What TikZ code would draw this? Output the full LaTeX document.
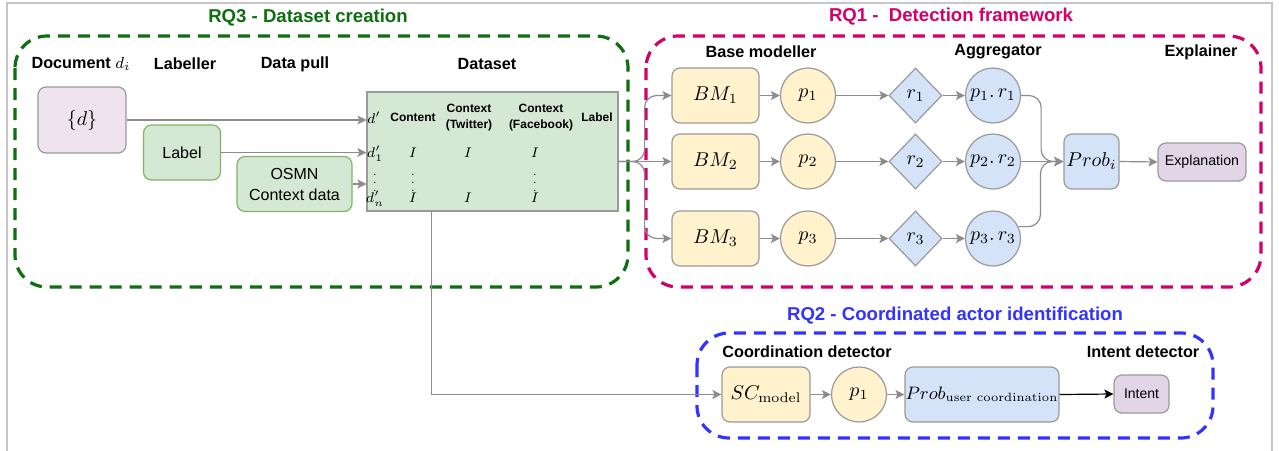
\documentclass[tikz,border=0pt]{standalone}
\usepackage{amsmath}
\usepackage{amssymb}
\usepackage[no-math]{fontspec}
\setmainfont{Liberation Sans}
\usetikzlibrary{arrows.meta}
\usetikzlibrary{shapes.geometric}

\definecolor{grpgreen}{HTML}{0F6E0F}
\definecolor{grpmag}{HTML}{D3006C}
\definecolor{grpblue}{HTML}{3333FF}
\definecolor{fillyel}{HTML}{FFF2CC}
\definecolor{fillblu}{HTML}{D4E3F8}
\definecolor{fillgrn}{HTML}{D5E8D4}
\definecolor{drawgrn}{HTML}{82B366}
\definecolor{fillpur}{HTML}{E1D5E7}
\definecolor{filldoc}{HTML}{EFE3EE}
\definecolor{edgegray}{HTML}{8C8C8C}
\definecolor{boxgray}{HTML}{9A9A9A}

\begin{document}
\begin{tikzpicture}[x=0.5pt, y=-0.5pt,
	box/.style={draw=boxgray, line width=0.6pt, rounded corners=4pt, inner sep=0pt,
		minimum width=43.5pt, minimum height=27.5pt, font=\fontsize{10}{12}\selectfont},
	rnd/.style={circle, draw=boxgray, line width=0.6pt, inner sep=0pt, minimum size=27.5pt,
		font=\fontsize{10}{12}\selectfont},
	dia/.style={diamond, draw=boxgray, line width=0.6pt, inner sep=0pt, minimum width=26.5pt,
		minimum height=27.5pt, fill=fillblu, font=\fontsize{10}{12}\selectfont},
	edge/.style={draw=edgegray, line width=0.6pt, -{Stealth[length=4.5pt,width=4.5pt,inset=1pt]}},
	group/.style={line width=1.6pt, dash pattern=on 6pt off 4pt, rounded corners=16pt},
	title/.style={font=\fontsize{9.3}{11}\selectfont\bfseries},
	head/.style={font=\fontsize{8.1}{10}\selectfont\bfseries},
	colhead/.style={font=\fontsize{6}{8}\selectfont\bfseries, align=center, inner sep=0pt},
	cell/.style={font=\fontsize{7.5}{9}\selectfont, inner sep=0pt},
	dots/.style={font=\fontsize{5.5}{7}\selectfont, inner sep=0pt}]

	% frame
	\useasboundingbox (0,0) rectangle (1279,450);
	\fill[white] (0,0) rectangle (1279,450);
	\draw[black!22, line width=0.6pt] (7,470) -- (7,3) -- (1272,3) -- (1272,470);

	% the three groups
	\draw[group, draw=grpgreen] (15,36) rectangle (628,287);
	\draw[group, draw=grpmag] (646,36) rectangle (1261,287);
	\draw[group, draw=grpblue] (697,333) rectangle (1213,438);
	\node[title, text=grpgreen] (rqthree) at (308,18) {RQ3 - Dataset creation};
	\node[title, text=grpmag] (rqone) at (951,17) {RQ1 -~ Detection framework};
	\node[title, text=grpblue] (rqtwo) at (955,316) {RQ2 - Coordinated actor identification};

	% RQ3 - dataset creation
	\node[head] (hdoc) at (81,64) {Document $d_i$};
	\node[head] (hlab) at (185,64) {Labeller};
	\node[head] (hpull) at (295,64) {Data pull};
	\node[head] (hds) at (487,64) {Dataset};

	\node[box, fill=filldoc, minimum width=44pt, minimum height=33pt] (doc) at (82,120) {$\{d\}$};
	\node[box, fill=fillgrn, draw=drawgrn, minimum width=38.5pt, font=\fontsize{8}{10}\selectfont] (lab) at (182,152.5) {Label};
	\node[box, fill=fillgrn, draw=drawgrn, minimum width=57.5pt, align=center,
		font=\fontsize{8}{10.5}\selectfont] (osmn) at (294.5,184) {OSMN\\Context data};
	\node[draw=boxgray, fill=fillgrn, line width=0.6pt, minimum width=125.5pt, minimum height=59.5pt,
		inner sep=0pt] (ds) at (492.5,151.5) {};

	\node[cell] (dhead) at (374,118) {$d'$};
	\node[colhead] (ccont) at (413,117) {Content};
	\node[colhead] (ctw) at (469,118) {Context\\(Twitter)};
	\node[colhead] (cfb) at (541,118) {Context\\(Facebook)};
	\node[colhead] (clab) at (597,117) {Label};
	\node[cell] (done) at (375,154) {$d'_1$};
	\node[cell] (ione) at (413,153) {$I$};
	\node[cell] (itwo) at (468,153) {$I$};
	\node[cell] (ithree) at (535,153) {$I$};
	\node[dots] (vone) at (375,177) {$\vdots$};
	\node[dots] (vtwo) at (413,177) {$\vdots$};
	\node[dots] (vthree) at (535,177) {$\vdots$};
	\node[cell] (dn) at (375,199) {$d'_n$};
	\node[cell] (inone) at (413,198) {$I$};
	\node[cell] (intwo) at (468,198) {$I$};
	\node[cell] (inthree) at (535,198) {$I$};

	\draw[edge] (doc.east) -- (doc.east -| ds.west);
	\draw[edge] (lab.east) -- (lab.east -| ds.west);
	\draw[edge] (osmn.east) -- (osmn.east -| ds.west);

	% RQ1 - detection framework
	\node[head] (hbase) at (761,52) {Base modeller};
	\node[head] (hagg) at (998,52) {Aggregator};
	\node[head] (hexp) at (1201,52) {Explainer};

	\node[box, fill=fillyel] (bmone) at (715.5,95.5) {$BM_1$};
	\node[box, fill=fillyel] (bmtwo) at (715.5,161.5) {$BM_2$};
	\node[box, fill=fillyel] (bmthree) at (715.5,238.5) {$BM_3$};
	\node[rnd, fill=fillyel] (pone) at (808,95.5) {$p_1$};
	\node[rnd, fill=fillyel] (ptwo) at (808,161.5) {$p_2$};
	\node[rnd, fill=fillyel] (pthree) at (808,238.5) {$p_3$};
	\node[dia] (rone) at (915.5,95.5) {$r_1$};
	\node[dia] (rtwo) at (915.5,161.5) {$r_2$};
	\node[dia] (rthree) at (915.5,238.5) {$r_3$};
	\node[rnd, fill=fillblu] (prone) at (993,95.5) {$p_1.\,r_1$};
	\node[rnd, fill=fillblu] (prtwo) at (993,161.5) {$p_2.\,r_2$};
	\node[rnd, fill=fillblu] (prthree) at (993,238.5) {$p_3.\,r_3$};
	\node[box, fill=fillblu, minimum width=27.5pt] (prob) at (1091.5,161.5) {$Prob_i$};
	\node[box, fill=fillpur, minimum width=44pt, minimum height=19pt,
		font=\fontsize{7.1}{9}\selectfont] (expl) at (1202,162) {Explanation};

	\coordinate (dsout) at (ds.east |- bmtwo.west);
	\draw[edge, rounded corners=6pt] (dsout) -- ++(26,0) |- (bmone.west);
	\draw[edge] (dsout) -- (bmtwo.west);
	\draw[edge, rounded corners=6pt] (dsout) -- ++(26,0) |- (bmthree.west);

	\foreach \row in {one,two,three}{
		\draw[edge] (bm\row.east) -- (p\row.west);
		\draw[edge] (p\row.east) -- (r\row.west);
		\draw[edge] (r\row.east) -- (pr\row.west);
	}
	\draw[edge, rounded corners=6pt] (prone.east) -- ++(20,0) |- (prob.west);
	\draw[edge] (prtwo.east) -- (prob.west);
	\draw[edge, rounded corners=6pt] (prthree.25) -- ++(22,0) |- (prob.west);
	\draw[edge] (prob.east) -- (expl.west);

	% RQ2 - coordinated actors
	\node[head] (hcoord) at (807,352) {Coordination detector};
	\node[head] (hint) at (1143,352) {Intent detector};

	\node[box, fill=fillyel, minimum width=44pt] (sc) at (766,394.5) {$SC_{\mathrm{model}}$};
	\node[rnd, fill=fillyel] (pb) at (859,394.5) {$p_1$};
	\node[box, fill=fillblu, minimum width=77pt, font=\fontsize{8.8}{10}\selectfont] (probu) at (982,394.5) {$Prob_{\mathrm{user\ coordination}}$};
	\node[box, fill=fillpur, minimum width=27.5pt, minimum height=19pt,
		font=\fontsize{7}{9}\selectfont] (intent) at (1141.5,394) {Intent};

	\draw[edge] ([xshift=32.5pt]ds.south west) |- (sc.west);
	\draw[edge] (sc.east) -- (pb.west);
	\draw[edge] (pb.east) -- (probu.west);
	\draw[edge, draw=black] (probu.east) -- (intent.west);
\end{tikzpicture}
\end{document}
